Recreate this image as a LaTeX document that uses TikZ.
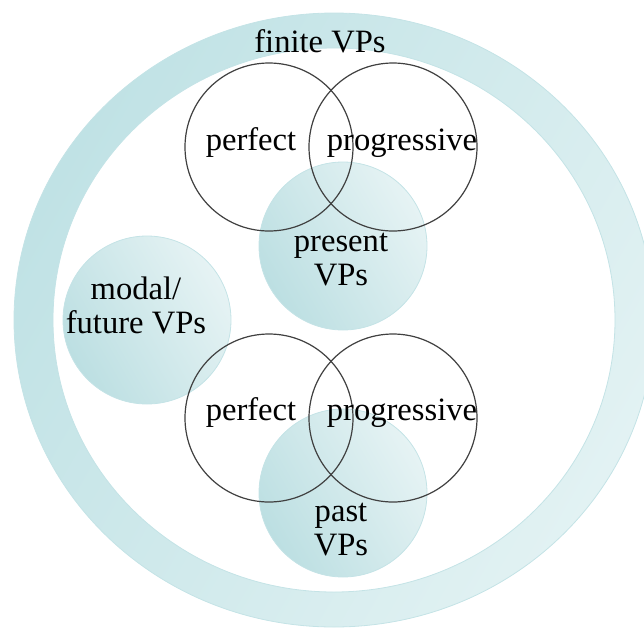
\documentclass[tikz,border=0pt]{standalone}
\usepackage{fontspec}
\setmainfont{Liberation Serif}
\usetikzlibrary{shapes}

\definecolor{ringdark}{RGB}{192,226,229}
\definecolor{ringlight}{RGB}{226,242,243}
\definecolor{vpdark}{RGB}{188,223,226}
\definecolor{vplight}{RGB}{230,243,244}
\definecolor{vpedge}{RGB}{196,227,230}

\begin{document}
\begin{tikzpicture}[x=0.5pt,y=-0.5pt,
    blob/.style={circle,minimum size=84pt,inner sep=0pt,outer sep=0pt,
      draw=vpedge,line width=0.4pt,left color=vpdark,right color=vplight,shading angle=120},
    venn/.style={circle,minimum size=84pt,inner sep=0pt,outer sep=0pt,
      draw=black!75,line width=0.6pt},
    lbl/.style={font=\fontsize{16.3}{16.8}\selectfont,align=center,inner sep=0pt}]

	\clip (0,0) rectangle (644,628);

	% finite VPs ring
	\shade[even odd rule,left color=ringdark,right color=ringlight,shading angle=60]
	      (334,320) ellipse [x radius=160pt,y radius=153.5pt]
	      (334,320) ellipse [x radius=140.5pt,y radius=136pt];
	\draw[vpedge,line width=0.4pt] (334,320) ellipse [x radius=160pt,y radius=153.5pt];
	\draw[vpedge,line width=0.4pt] (334,320) ellipse [x radius=140.5pt,y radius=136pt];

	\node[blob] (pres)  at (343,246) {};
	\node[blob] (modal) at (147,320) {};
	\node[blob] (past)  at (343,493) {};

	\node[venn] (perf1) at (269,147) {};
	\node[venn] (prog1) at (393,147) {};
	\node[venn] (perf2) at (269,418) {};
	\node[venn] (prog2) at (393,418) {};

	% last line sits on the given point
	\node[lbl,anchor=base] (tfin)   at (320,52)  {finite VPs};
	\node[lbl,anchor=base] (tperf1) at (251,150) {perfect};
	\node[lbl,anchor=base] (tprog1) at (402,150) {progressive};
	\node[lbl,anchor=base] (tpres)  at (341,285) {present\\VPs};
	\node[lbl,anchor=base] (tmodal) at (136,333) {modal/\\future VPs};
	\node[lbl,anchor=base] (tperf2) at (251,420) {perfect};
	\node[lbl,anchor=base] (tprog2) at (402,420) {progressive};
	\node[lbl,anchor=base] (tpast)  at (341,555) {past\\VPs};
\end{tikzpicture}
\end{document}
